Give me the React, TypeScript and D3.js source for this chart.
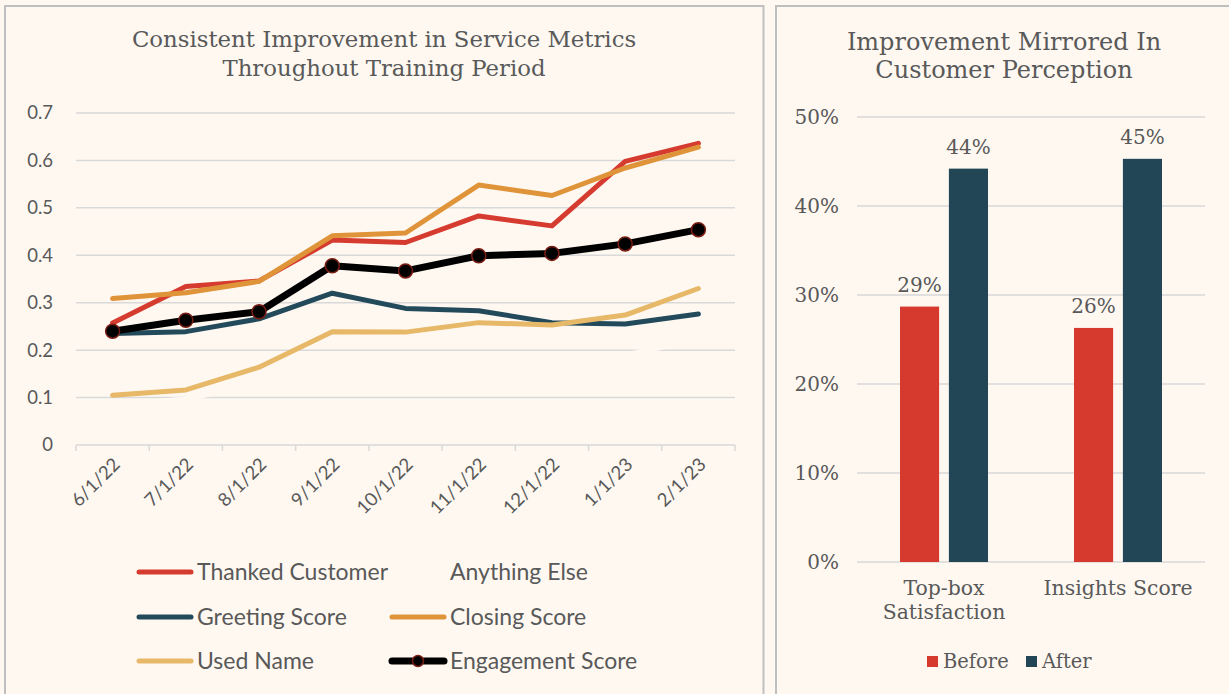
import React from "react";
import * as d3 from "d3";

const months = ["6/1/22", "7/1/22", "8/1/22", "9/1/22", "10/1/22", "11/1/22", "12/1/22", "1/1/23", "2/1/23"];
const thankedCustomer = [0.257, 0.334, 0.346, 0.432, 0.427, 0.483, 0.462, 0.598, 0.636];
const anythingElse = [0.085, 0.097, 0.128, 0.148, 0.158, 0.168, 0.178, 0.19, 0.222];
const greetingScore = [0.235, 0.239, 0.266, 0.32, 0.288, 0.283, 0.258, 0.255, 0.276];
const closingScore = [0.309, 0.321, 0.345, 0.441, 0.447, 0.548, 0.526, 0.584, 0.628];
const usedName = [0.105, 0.116, 0.164, 0.239, 0.238, 0.258, 0.253, 0.274, 0.33];
const engagementScore = [0.24, 0.263, 0.281, 0.378, 0.367, 0.399, 0.404, 0.424, 0.454];
const leftTicks = [0, 0.1, 0.2, 0.3, 0.4, 0.5, 0.6, 0.7];

const barCategories = ["Top-box Satisfaction", "Insights Score"];
const barCategoryLines = [["Top-box", "Satisfaction"], ["Insights Score"]];
const beforeValues = [0.287, 0.263];
const afterValues = [0.442, 0.453];
const barGroups = ["Before", "After"];
const rightTicks = [0, 0.1, 0.2, 0.3, 0.4, 0.5];

const BG = "#FEF8F1";
const TEXT = "#595959";
const GRID = "#D9D9D9";
const BORDER = "#BFBFBF";
const SERIF = "'DejaVu Serif', serif";
const SANS = "Lato, 'Open Sans', sans-serif";

const lineSeries = [
  { name: "Thanked Customer", values: thankedCustomer, color: "#D63B2F", width: 5 },
  { name: "Anything Else", values: anythingElse, color: BG, width: 5 },
  { name: "Greeting Score", values: greetingScore, color: "#234A5B", width: 5 },
  { name: "Closing Score", values: closingScore, color: "#E0943A", width: 5 },
  { name: "Used Name", values: usedName, color: "#E6B868", width: 5 },
  { name: "Engagement Score", values: engagementScore, color: "#000000", width: 7, marker: true },
];

const barColors = { Before: "#D63A2E", After: "#234657" };

export default function App() {
  // Left chart scales
  const x = d3.scaleBand<string>().domain(months).range([76, 735]).padding(0);
  const y = d3.scaleLinear().domain([0, 0.7]).range([445, 113]);
  const line = d3
    .line<number>()
    .x((_, i) => (x(months[i]) as number) + x.bandwidth() / 2)
    .y((d) => y(d));

  // Right chart scales
  const x0 = d3.scaleBand<string>().domain(barCategories).range([857, 1205]).padding(0);
  const x1 = d3
    .scaleBand<string>()
    .domain(barGroups)
    .range([0, x0.bandwidth()])
    .paddingInner(0.2)
    .paddingOuter(0.88);
  const y2 = d3.scaleLinear().domain([0, 0.5]).range([562, 117]);
  const pct = d3.format(".0%");

  const legendCols = [137, 390];
  const legendRows = [572, 617, 661];

  return (
    <svg
      width={1229}
      height={694}
      style={{ position: "absolute", left: 0, top: 0, display: "block" }}
    >
      <rect x={0} y={0} width={1229} height={694} fill={BG} />
      {/* Panels */}
      <rect x={5} y={6} width={758.5} height={720} fill={BG} stroke={BORDER} strokeWidth={2} />
      <rect x={776} y={6} width={470} height={720} fill={BG} stroke={BORDER} strokeWidth={2} />

      {/* LEFT CHART */}
      <text x={384} y={47} textAnchor="middle" fontFamily={SERIF} fontSize={22.8} fill={TEXT}>
        Consistent Improvement in Service Metrics
      </text>
      <text x={384} y={76} textAnchor="middle" fontFamily={SERIF} fontSize={22.8} fill={TEXT}>
        Throughout Training Period
      </text>

      {leftTicks.map((t) => (
        <g key={t}>
          {t > 0 && <line x1={76} x2={735} y1={y(t)} y2={y(t)} stroke={GRID} strokeWidth={1.5} />}
          <text
            x={53}
            y={y(t)}
            dy="0.35em"
            textAnchor="end"
            fontFamily={SANS}
            fontSize={18.5}
            fill={TEXT}
          >
            {t === 0 ? "0" : d3.format(".1f")(t)}
          </text>
        </g>
      ))}
      {/* x axis */}
      <line x1={76} x2={735} y1={y(0)} y2={y(0)} stroke={GRID} strokeWidth={1.5} />
      {months.map((m) => (
        <line
          key={"tk" + m}
          x1={x(m) as number}
          x2={x(m) as number}
          y1={y(0)}
          y2={y(0) + 6}
          stroke={GRID}
          strokeWidth={1.5}
        />
      ))}
      <line x1={735} x2={735} y1={y(0)} y2={y(0) + 6} stroke={GRID} strokeWidth={1.5} />
      {months.map((m) => {
        const cx = (x(m) as number) + x.bandwidth() / 2 + 4;
        const cy = y(0) + 16;
        return (
          <text
            key={"xl" + m}
            transform={`translate(${cx},${cy}) rotate(-45)`}
            textAnchor="end"
            dy="0.35em"
            fontFamily={SANS}
            fontSize={18.5}
            fill={TEXT}
          >
            {m}
          </text>
        );
      })}

      {/* lines */}
      {lineSeries.map((s) => (
        <path
          key={s.name}
          d={line(s.values) as string}
          fill="none"
          stroke={s.color}
          strokeWidth={s.width}
          strokeLinecap="round"
          strokeLinejoin="round"
        />
      ))}
      {lineSeries
        .filter((s) => s.marker)
        .map((s) =>
          s.values.map((v, i) => (
            <circle
              key={s.name + i}
              cx={(x(months[i]) as number) + x.bandwidth() / 2}
              cy={y(v)}
              r={7}
              fill="#000000"
              stroke="#7A1E14"
              strokeWidth={1.5}
            />
          ))
        )}

      {/* left legend */}
      {lineSeries.map((s, i) => {
        const lx = legendCols[i % 2];
        const ly = legendRows[Math.floor(i / 2)];
        return (
          <g key={"lg" + s.name}>
            <line
              x1={lx + 2}
              x2={lx + 54}
              y1={ly}
              y2={ly}
              stroke={s.color}
              strokeWidth={s.width}
              strokeLinecap="round"
            />
            {s.marker && (
              <circle cx={lx + 28} cy={ly} r={5.5} fill="#000" stroke="#7A1E14" strokeWidth={1.5} />
            )}
            <text x={lx + 60} y={ly} dy="0.35em" fontFamily={SANS} fontSize={23} fill={TEXT}>
              {s.name}
            </text>
          </g>
        );
      })}

      {/* RIGHT CHART */}
      <text x={1004} y={50} textAnchor="middle" fontFamily={SERIF} fontSize={24} fill={TEXT}>
        Improvement Mirrored In
      </text>
      <text x={1004} y={78} textAnchor="middle" fontFamily={SERIF} fontSize={24} fill={TEXT}>
        Customer Perception
      </text>

      {rightTicks.map((t) => (
        <g key={"rt" + t}>
          <line x1={857} x2={1205} y1={y2(t)} y2={y2(t)} stroke={GRID} strokeWidth={1.5} />
          <text
            x={839}
            y={y2(t)}
            dy="0.35em"
            textAnchor="end"
            fontFamily={SERIF}
            fontSize={20}
            fill={TEXT}
          >
            {pct(t)}
          </text>
        </g>
      ))}

      {barCategories.map((c, ci) => {
        const gx = x0(c) as number;
        const vals = [beforeValues[ci], afterValues[ci]];
        return (
          <g key={c}>
            {barGroups.map((g, gi) => {
              const bx = gx + (x1(g) as number);
              const v = vals[gi];
              return (
                <g key={g}>
                  <rect
                    x={bx}
                    y={y2(v)}
                    width={x1.bandwidth()}
                    height={y2(0) - y2(v)}
                    fill={barColors[g as "Before" | "After"]}
                  />
                  <text
                    x={bx + x1.bandwidth() / 2}
                    y={y2(v) - 15}
                    textAnchor="middle"
                    fontFamily={SERIF}
                    fontSize={20}
                    fill={TEXT}
                  >
                    {pct(v)}
                  </text>
                </g>
              );
            })}
            {barCategoryLines[ci].map((ln, li) => (
              <text
                key={ln}
                x={gx + x0.bandwidth() / 2}
                y={595 + li * 24}
                textAnchor="middle"
                fontFamily={SERIF}
                fontSize={20.4}
                fill={TEXT}
              >
                {ln}
              </text>
            ))}
          </g>
        );
      })}

      {/* right legend */}
      {barGroups.map((g, i) => {
        const lx = i === 0 ? 927 : 1026;
        return (
          <g key={"bl" + g}>
            <rect x={lx} y={656} width={11} height={11} fill={barColors[g as "Before" | "After"]} />
            <text x={lx + 16} y={668} fontFamily={SERIF} fontSize={19.5} fill={TEXT}>
              {g}
            </text>
          </g>
        );
      })}
    </svg>
  );
}
